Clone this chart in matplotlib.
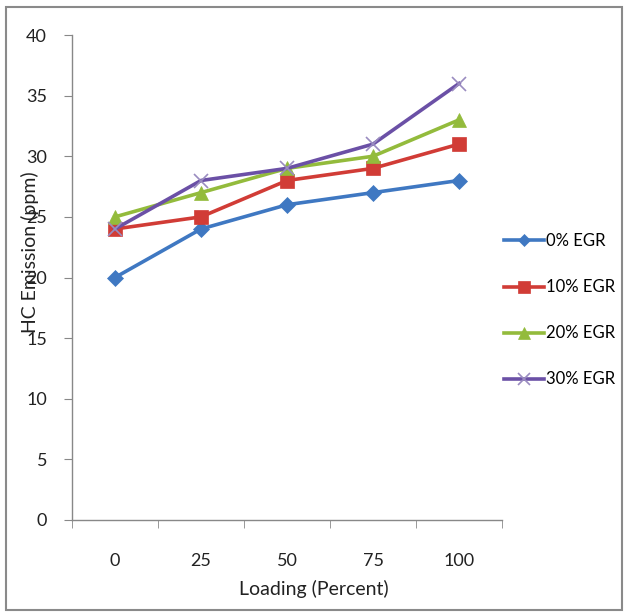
import matplotlib
matplotlib.use("Agg")
import matplotlib.pyplot as plt
from matplotlib.patches import Rectangle
import matplotlib.font_manager as fm

categories = ["0", "25", "50", "75", "100"]
egr0 = [20, 24, 26, 27, 28]
egr10 = [24, 25, 28, 29, 31]
egr20 = [25, 27, 29, 30, 33]
egr30 = [24, 28, 29, 31, 36]
series_names = ["0% EGR", "10% EGR", "20% EGR", "30% EGR"]
yticks = [0, 5, 10, 15, 20, 25, 30, 35, 40]

avail = {f.name for f in fm.fontManager.ttflist}
fam = [f for f in ["Lato", "Open Sans", "DejaVu Sans"] if f in avail]
plt.rcParams["font.family"] = fam

W, H = 629, 612
fig = plt.figure(figsize=(W / 100, H / 100), dpi=100)
ax = fig.add_axes([72 / W, 1 - 520 / H, (502 - 72) / W, (520 - 35) / H])

x = list(range(len(categories)))
styles = [
    (egr0, "#3f78c2", "D", 8, "#3f78c2"),
    (egr10, "#d13c36", "s", 10, "#d13c36"),
    (egr20, "#93bb3c", "^", 10, "#93bb3c"),
    (egr30, "#6b50a6", "x", 10, "#9a8cc0"),
]
for (vals, col, mk, ms, mcol), name in zip(styles, series_names):
    ax.plot(x, vals, color=col, lw=2.6, marker=mk, markersize=ms,
            markerfacecolor=mcol, markeredgecolor=mcol,
            markeredgewidth=1.2 if mk == "x" else 0.5, label=name)

ax.set_xlim(-0.5, len(categories) - 0.5)
ax.set_ylim(0, 40)
ax.set_yticks(yticks)
ax.set_xticks(x)
ax.set_xticklabels(categories)
ax.set_xticks([i - 0.5 for i in range(len(categories) + 1)], minor=True)
ax.tick_params(axis="x", which="major", length=0, pad=24, labelsize=13, colors="#222222")
ax.tick_params(axis="x", which="minor", length=6, direction="out", color="#888888")
ax.tick_params(axis="y", length=6, direction="out", color="#888888", labelsize=13,
               pad=12, labelcolor="#222222")
for s in ["top", "right"]:
    ax.spines[s].set_visible(False)
for s in ["left", "bottom"]:
    ax.spines[s].set_color("#888888")
    ax.spines[s].set_linewidth(1.0)

fig.text(30 / W, 1 - 252 / H, "HC Emission (ppm)", rotation=90, ha="center", va="center",
         fontsize=14, color="#222222")
fig.text(314 / W, 1 - 589 / H, "Loading (Percent)", ha="center", va="center",
         fontsize=14, color="#222222")

leg = fig.legend(loc="upper left", bbox_to_anchor=(496 / W, 1 - 225 / H), frameon=False,
                 fontsize=12, handlelength=2.4, handletextpad=0.1, labelspacing=1.8,
                 borderpad=0, markerscale=0.8)

fig.patches.append(Rectangle((6 / W, 1 - 610 / H), (622 - 6) / W, (610 - 7) / H,
                             transform=fig.transFigure, fill=False, edgecolor="#8a8a8a",
                             linewidth=1.5))

fig.savefig("out.png", dpi=100)
